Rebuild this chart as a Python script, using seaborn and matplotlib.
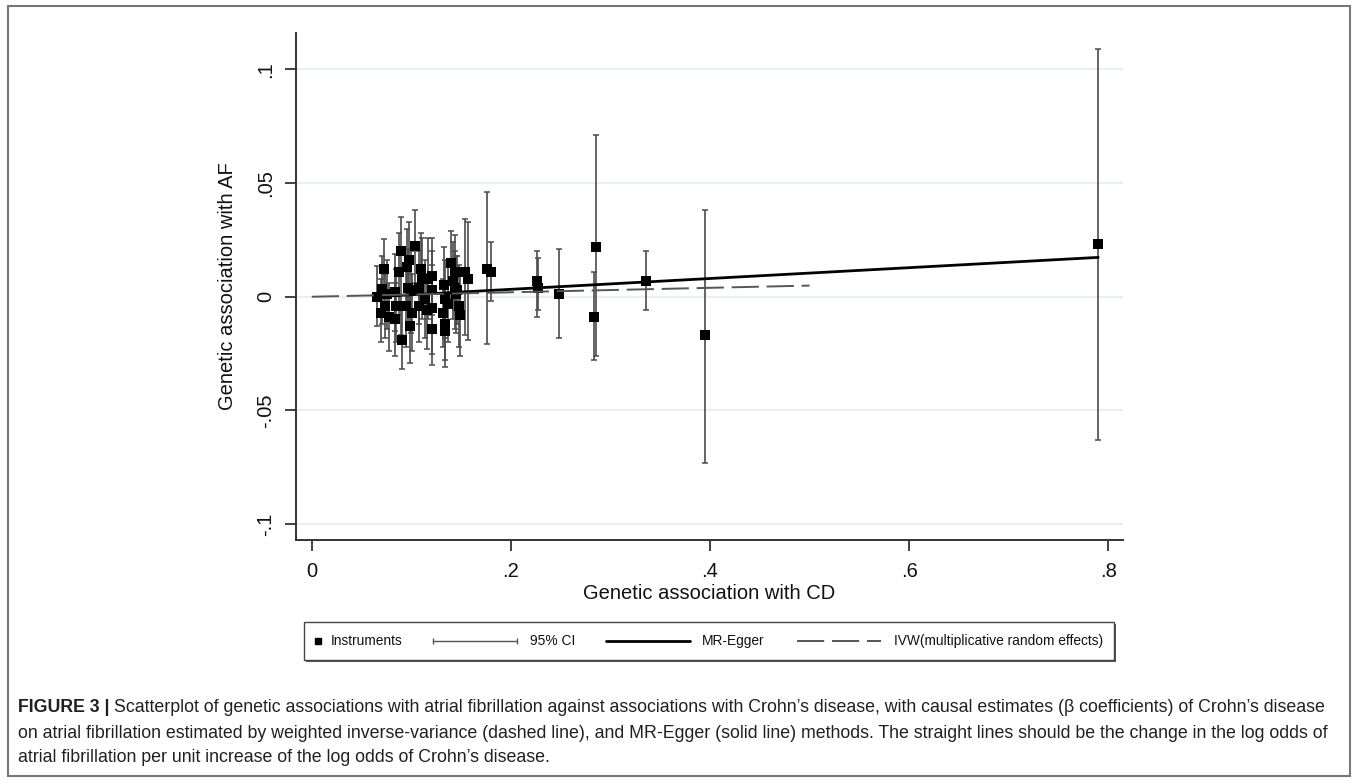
import numpy as np
import pandas as pd
import seaborn as sns
import matplotlib.pyplot as plt
from matplotlib.lines import Line2D
from matplotlib.patches import Rectangle

# instrument estimates
bx = [0.066, 0.073, 0.071, 0.070, 0.074, 0.078, 0.076, 0.084, 0.085, 0.088,
      0.0895, 0.084, 0.091, 0.096, 0.098, 0.095, 0.097, 0.099, 0.101, 0.100,
      0.104, 0.108, 0.108, 0.110, 0.111, 0.114, 0.117, 0.121, 0.121, 0.116,
      0.121, 0.121, 0.133, 0.134, 0.132, 0.134, 0.134, 0.137, 0.140, 0.142,
      0.144, 0.144, 0.145, 0.148, 0.149, 0.154, 0.157, 0.146,
      0.176, 0.180, 0.226, 0.227, 0.248, 0.283, 0.285, 0.336, 0.395, 0.790]
by = [0.000, 0.012, 0.0035, -0.007, -0.004, -0.009, 0.001, 0.002, -0.004, 0.011,
      0.020, -0.010, -0.019, 0.013, 0.016, -0.004, 0.004, -0.013, -0.007, 0.003,
      0.0224, 0.004, -0.004, 0.012, 0.008, -0.001, 0.008, 0.009, 0.003, -0.006,
      -0.005, -0.014, 0.005, -0.001, -0.007, -0.012, -0.015, -0.003, 0.015, 0.007,
      0.011, 0.004, 0.001, -0.004, -0.008, 0.011, 0.008, 0.003,
      0.012, 0.011, 0.007, 0.004, 0.001, -0.009, 0.022, 0.007, -0.017, 0.023]
ci_lo = [-0.013, -0.004, -0.012, -0.020, -0.018, -0.024, -0.014, -0.015, -0.020, -0.008,
         -0.017, -0.026, -0.032, -0.006, -0.004, -0.022, -0.014, -0.029, -0.024, -0.016,
         0.006, -0.012, -0.020, -0.004, -0.010, -0.018, -0.010, -0.008, -0.016, -0.023,
         -0.025, -0.030, -0.012, -0.018, -0.022, -0.028, -0.031, -0.020, -0.001, -0.010,
         -0.006, -0.014, -0.016, -0.022, -0.026, -0.017, -0.019, -0.012,
         -0.021, -0.002, -0.009, -0.006, -0.018, -0.028, -0.026, -0.006, -0.073, -0.063]
ci_hi = [0.0136, 0.0255, 0.018, 0.008, 0.010, 0.006, 0.016, 0.019, 0.012, 0.028,
         0.035, 0.006, -0.004, 0.030, 0.033, 0.012, 0.021, 0.003, 0.010, 0.020,
         0.038, 0.020, 0.012, 0.028, 0.026, 0.016, 0.026, 0.026, 0.020, 0.010,
         0.014, 0.002, 0.022, 0.016, 0.008, 0.004, 0.001, 0.014, 0.029, 0.024,
         0.027, 0.020, 0.018, 0.014, 0.010, 0.034, 0.033, 0.018,
         0.046, 0.024, 0.020, 0.017, 0.021, 0.011, 0.071, 0.020, 0.038, 0.109]

# fitted lines (intercept, slope) and x range
egger_coef = (-0.0015, 0.0238)
egger_x = [0.066, 0.79]
ivw_slope = 0.0098
ivw_x = [0.0, 0.5]

yticks = [-0.1, -0.05, 0, 0.05, 0.1]
ylabels = ['-.1', '-.05', '0', '.05', '.1']
xticks = [0, 0.2, 0.4, 0.6, 0.8]
xlabels = ['0', '.2', '.4', '.6', '.8']
legend_labels = ['Instruments', '95% CI', 'MR-Egger', 'IVW(multiplicative random effects)']

df = pd.DataFrame({'bx': bx, 'by': by, 'lo': ci_lo, 'hi': ci_hi})
egger = pd.DataFrame({'x': egger_x})
egger['y'] = egger_coef[0] + egger_coef[1] * egger['x']
ivw = pd.DataFrame({'x': ivw_x})
ivw['y'] = ivw_slope * ivw['x']

sns.set_theme(style='white')
plt.rcParams['font.family'] = ['Liberation Sans', 'DejaVu Sans']

W, H = 1357, 783
fig = plt.figure(figsize=(W / 100, H / 100), dpi=100)
ax = fig.add_axes([0.218, 0.3103, 0.6097, 0.6476])


def fx(px):
    return px / W


def fy(py):
    return 1 - py / H


for t in yticks:
    ax.axhline(t, color='#e6eff1', lw=1.5, zorder=0)

ax.errorbar(df['bx'], df['by'], yerr=[df['by'] - df['lo'], df['hi'] - df['by']],
            fmt='none', ecolor='#4a4a4a', elinewidth=1.2, capsize=2.5, capthick=1.1, zorder=2)
sns.scatterplot(data=df, x='bx', y='by', marker='s', s=42, color='black',
                edgecolor='black', linewidth=0, ax=ax, zorder=3)
sns.lineplot(data=egger, x='x', y='y', color='black', lw=2.0, ax=ax, zorder=4)
sns.lineplot(data=ivw, x='x', y='y', color='#555555', lw=1.4, ax=ax, zorder=4)
ax.lines[-1].set_dashes([14, 4])

ax.set_xlim(-0.016, 0.815)
ax.set_ylim(-0.107, 0.116)
ax.set_xticks(xticks)
ax.set_xticklabels(xlabels)
ax.set_yticks(yticks)
ax.set_yticklabels(ylabels, rotation=90, va='center')
ax.tick_params(axis='both', direction='out', length=8, width=1.3, color='#333333',
               labelsize=14.5, labelcolor='#111111', bottom=True, left=True)
ax.tick_params(axis='x', pad=8)
ax.tick_params(axis='y', pad=7)
ax.set_xlabel('Genetic association with CD', fontsize=14.5, color='#111111', labelpad=2)
ax.set_ylabel('Genetic association with AF', fontsize=14.5, color='#111111', labelpad=14)
for s in ['top', 'right']:
    ax.spines[s].set_visible(False)
for s in ['left', 'bottom']:
    ax.spines[s].set_color('#333333')
    ax.spines[s].set_linewidth(1.4)

# legend drawn by hand, Stata style
fig.add_artist(Rectangle((fx(306), fy(662)), fx(1114 - 304), 38 / H, transform=fig.transFigure,
                         facecolor='#555555', edgecolor='none', zorder=1))
fig.add_artist(Rectangle((fx(304), fy(660)), fx(1114 - 304), 38 / H, transform=fig.transFigure,
                         facecolor='white', edgecolor='#444444', lw=1.0, zorder=2))
ly = fy(641)
fig.add_artist(Line2D([fx(318)], [ly], marker='s', markersize=5, color='black', ls='none', zorder=3))
fig.add_artist(Line2D([fx(433), fx(517)], [ly, ly], color='#555555', lw=1.0, zorder=3))
fig.add_artist(Line2D([fx(433), fx(517)], [ly, ly], marker='|', markersize=4, ls='none',
                      color='#555555', zorder=3))
fig.add_artist(Line2D([fx(606), fx(690)], [ly, ly], color='black', lw=2.0, zorder=3))
fig.add_artist(Line2D([fx(797), fx(881)], [ly, ly], color='#555555', lw=1.4, dashes=[14, 4], zorder=3))
for x0, lab in zip([331, 530, 702, 894], legend_labels):
    fig.text(fx(x0), ly, lab, fontsize=9.9, color='#111111', va='center', zorder=3)

# outer frame
fig.add_artist(Rectangle((fx(8), fy(776)), fx(1342), 770 / H, transform=fig.transFigure,
                         fill=False, edgecolor='#777777', lw=1.5))

cap_col = '#231f20'
cap_fs = 12.8
t0 = fig.text(fx(18), fy(708), 'FIGURE 3 |', fontsize=cap_fs, fontweight='bold',
              color=cap_col, va='center')
fig.canvas.draw()
bb = t0.get_window_extent()
fig.text(fx(bb.x1 + 5), fy(708),
         'Scatterplot of genetic associations with atrial fibrillation against associations '
         'with Crohn\u2019s disease, with causal estimates (\u03b2 coefficients) of Crohn\u2019s disease',
         fontsize=cap_fs, color=cap_col, va='center')
fig.text(fx(18), fy(733),
         'on atrial fibrillation estimated by weighted inverse-variance (dashed line), and MR-Egger '
         '(solid line) methods. The straight lines should be the change in the log odds of',
         fontsize=cap_fs, color=cap_col, va='center')
fig.text(fx(18), fy(758),
         'atrial fibrillation per unit increase of the log odds of Crohn\u2019s disease.',
         fontsize=cap_fs, color=cap_col, va='center')

fig.savefig('out.png', dpi=100)
